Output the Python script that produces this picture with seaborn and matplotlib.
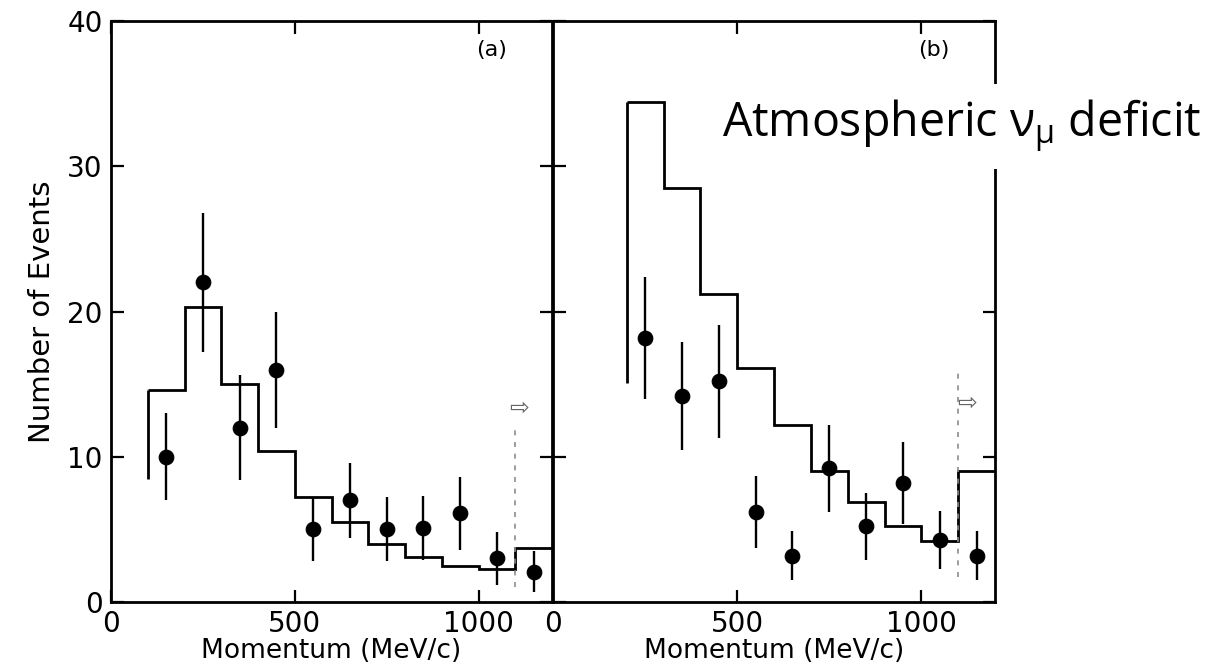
import numpy as np
import pandas as pd
import matplotlib
matplotlib.use("Agg")
import matplotlib.pyplot as plt
import seaborn as sns

# ---- data ----
edges_a = [100, 200, 300, 400, 500, 600, 700, 800, 900, 1000, 1100, 1200]
hist_a = [14.6, 20.3, 15.0, 10.4, 7.2, 5.5, 4.0, 3.1, 2.5, 2.3, 3.7]
edge_floor_a = 8.5

edges_b = [200, 300, 400, 500, 600, 700, 800, 900, 1000, 1100, 1200]
hist_b = [34.4, 28.5, 21.2, 16.1, 12.2, 9.0, 6.9, 5.2, 4.2, 9.0]
edge_floor_b = 15.1

mom_a = [150, 250, 350, 450, 550, 650, 750, 850, 950, 1050, 1150]
events_a = [10.0, 22.0, 12.0, 16.0, 5.0, 7.0, 5.0, 5.1, 6.1, 3.0, 2.1]
err_a = [3.0, 4.8, 3.6, 4.0, 2.2, 2.6, 2.2, 2.2, 2.5, 1.8, 1.4]

mom_b = [250, 350, 450, 550, 650, 750, 850, 950, 1050, 1150]
events_b = [18.2, 14.2, 15.2, 6.2, 3.2, 9.2, 5.2, 8.2, 4.3, 3.2]
err_b = [4.2, 3.7, 3.9, 2.5, 1.7, 3.0, 2.3, 2.8, 2.0, 1.7]

cut_a = [1.0, 12.0]
cut_b = [1.7, 16.2]
arrow_a = (1110, 13.4)
arrow_b = (1125, 13.7)

xticks = [0, 500, 1000]
yticks = [0, 10, 20, 30, 40]

sns.set_style("ticks", {"axes.edgecolor": "black", "text.color": "black",
                        "xtick.color": "black", "ytick.color": "black",
                        "axes.labelcolor": "black"})
plt.rcParams["font.family"] = ["DejaVu Sans"]
plt.rcParams["mathtext.fontset"] = "custom"
plt.rcParams["mathtext.rm"] = "Open Sans"
plt.rcParams["mathtext.it"] = "Open Sans"

fig = plt.figure(figsize=(12.12, 6.71), dpi=100)
ax_a = fig.add_axes([0.0916, 0.1028, 0.3639, 0.8659])
ax_b = fig.add_axes([0.4563, 0.1028, 0.3647, 0.8659])

panels = [
    (ax_a, edges_a, hist_a, edge_floor_a, mom_a, events_a, err_a, cut_a, arrow_a, "(a)"),
    (ax_b, edges_b, hist_b, edge_floor_b, mom_b, events_b, err_b, cut_b, arrow_b, "(b)"),
]

for ax, edges, hist, floor, mom, ev, err, cut, arr, tag in panels:
    # expected histogram (open outline)
    ax.stairs(hist, edges, baseline=None, color="black", lw=2.0)
    ax.vlines(edges[0], floor, hist[0], color="black", lw=2.0)

    # measured points
    ax.errorbar(mom, ev, yerr=err, fmt="none", ecolor="black", elinewidth=1.7)
    df = pd.DataFrame({"p": mom, "n": ev})
    sns.scatterplot(data=df, x="p", y="n", ax=ax, color="black", s=110,
                    edgecolor="black", zorder=5, legend=False)

    # cut line and overflow arrow
    ax.vlines(1100, cut[0], cut[1], color="0.55", lw=1.2, linestyles=(0, (3, 4)))
    ax.text(arr[0], arr[1], "\u21e8", fontsize=17, color="0.4",
            ha="center", va="center")

    ax.text(1035, 38.0, tag, fontsize=16, ha="center", va="center")

    ax.set_xlim(0, 1200)
    ax.set_ylim(0, 40)
    ax.set_xticks(xticks)
    ax.set_yticks(yticks)
    ax.set_xlabel("Momentum (MeV/c)", fontsize=19, labelpad=0)
    ax.tick_params(axis="both", direction="in", length=9, width=1.6,
                   top=True, right=True, labelsize=20, pad=6)
    for s in ax.spines.values():
        s.set_linewidth(2.0)
        s.set_visible(True)

ax_a.set_ylabel("Number of Events", fontsize=21, labelpad=8)
ax_b.set_ylabel("")
ax_b.set_yticklabels([])

fig.text(0.5957, 0.796, r"Atmospheric $\nu_{\mu}$ deficit", fontsize=33.5,
         family=["Open Sans", "DejaVu Sans"], ha="left", va="baseline",
         bbox=dict(facecolor="white", edgecolor="none", pad=10), zorder=10)

fig.savefig("out.png", dpi=100)
